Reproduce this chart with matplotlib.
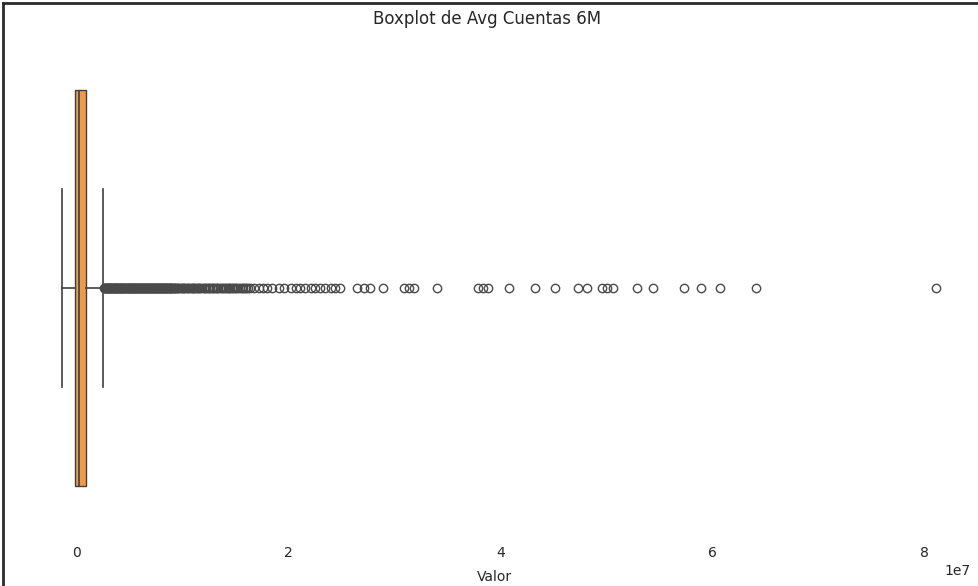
import matplotlib.pyplot as plt
from matplotlib.lines import Line2D

# Summary of "Avg Cuentas 6M" (values in millions)
q1, median, q3 = -0.10, 0.24, 0.94
whisker_low, whisker_high = -1.35, 2.48

# outliers: the packed run just past the upper whisker...
outliers_dense = [2.62, 2.66, 2.71, 2.75, 2.80, 2.86, 2.91, 2.95, 3.01, 3.06,
                  3.11, 3.15, 3.21, 3.26, 3.30, 3.36, 3.41, 3.47, 3.52, 3.56,
                  3.62, 3.67, 3.72, 3.78, 3.83, 3.87, 3.93, 3.98, 4.04, 4.09,
                  4.13, 4.19, 4.24, 4.30, 4.35, 4.40, 4.45, 4.51, 4.56, 4.61,
                  4.67, 4.72, 4.77, 4.83, 4.88, 4.93, 4.99, 5.04, 5.09, 5.15,
                  5.20, 5.25, 5.31, 5.36, 5.41, 5.47, 5.52, 5.58, 5.63, 5.68,
                  5.74, 5.79, 5.84, 5.90, 5.95, 6.01, 6.06, 6.11, 6.17, 6.22,
                  6.28, 6.33, 6.38, 6.44, 6.49, 6.55, 6.60, 6.66, 6.71, 6.76,
                  6.82, 6.87, 6.93, 6.98, 7.04, 7.09, 7.15, 7.20, 7.26, 7.31,
                  7.37, 7.42, 7.48, 7.53, 7.59, 7.64, 7.70, 7.76, 7.81, 7.87,
                  7.92, 7.98, 8.04, 8.09, 8.15, 8.21, 8.27, 8.32, 8.38, 8.44,
                  8.50, 8.56, 8.62, 8.68, 8.74, 8.80, 8.86, 8.92, 8.98, 9.05,
                  9.11, 9.18, 9.24, 9.31]
outliers_mid = [9.40, 9.52, 9.61, 9.73, 9.84, 9.95, 10.1, 10.2, 10.3, 10.4,
                10.5, 10.6, 10.8, 10.9, 11.0, 11.1, 11.2, 11.4, 11.5, 11.6,
                11.7, 11.9, 12.0, 12.1, 12.2, 12.4, 12.5, 12.6, 12.8, 12.9,
                13.0, 13.2, 13.3, 13.4, 13.6, 13.7, 13.8, 14.0, 14.1, 14.3,
                14.4, 14.5, 14.7, 14.8, 15.0, 15.1, 15.3, 15.4, 15.6, 15.7,
                15.9, 16.0, 16.2, 16.4]
# ...and the scattered tail
outliers_tail = [16.8, 17.2, 17.6, 18.0, 18.5, 19.1, 19.6, 20.3, 20.7, 21.1,
                 21.6, 22.1, 22.5, 23.0, 23.5, 24.0, 24.4, 24.9, 26.5, 27.1,
                 27.7, 28.9, 30.9, 31.4, 31.9, 34.0, 37.9, 38.4, 38.8, 40.8,
                 43.3, 45.2, 47.3, 48.2, 49.6, 50.1, 50.6, 52.9, 54.4, 57.3,
                 58.9, 60.7, 64.1, 81.1]

M = 1e6
fliers = [v * M for v in outliers_dense + outliers_mid + outliers_tail]
stats = [dict(q1=q1 * M, med=median * M, q3=q3 * M,
              whislo=whisker_low * M, whishi=whisker_high * M,
              fliers=fliers, label='')]

line_col = '#3f3f3f'
flier_col = '#4a4a4a'
box_col = '#ec9a4c'
text_col = '#262626'

fig = plt.figure(figsize=(9.79, 5.86), dpi=100)
ax = fig.add_axes([18 / 979, 51 / 586, 953 / 979, 494 / 586])

ax.bxp(stats, positions=[0], widths=0.8, capwidths=0.4,
       orientation='horizontal', patch_artist=True,
       boxprops=dict(facecolor=box_col, edgecolor=line_col, linewidth=1.0),
       medianprops=dict(color=line_col, linewidth=1.2),
       whiskerprops=dict(color=line_col, linewidth=1.2),
       capprops=dict(color=line_col, linewidth=1.2),
       flierprops=dict(marker='o', markersize=6, markerfacecolor='none',
                       markeredgecolor=flier_col, markeredgewidth=1.0))

ax.set_ylim(0.5, -0.5)
ax.set_xlim(-0.55e7, 8.44e7)
ax.set_yticks([])
ax.set_xticks([0, 2e7, 4e7, 6e7, 8e7])
ax.tick_params(axis='x', length=0, pad=8, colors=text_col, labelsize=10)
for s in ax.spines.values():
    s.set_visible(False)

ax.set_title('Boxplot de Avg Cuentas 6M', fontsize=12, color=text_col,
             pad=12, x=0.492)
ax.set_xlabel('Valor', fontsize=10, color=text_col, labelpad=7)
ax.xaxis.get_offset_text().set_color(text_col)

# frame around the output cell
fig.add_artist(Line2D([3 / 979, 1], [1 - 3 / 586, 1 - 3 / 586],
                      transform=fig.transFigure, color='#2b2b2b', lw=2))
fig.add_artist(Line2D([3 / 979, 3 / 979], [0, 1 - 3 / 586],
                      transform=fig.transFigure, color='#2b2b2b', lw=2))

fig.savefig('out.png', dpi=100)
